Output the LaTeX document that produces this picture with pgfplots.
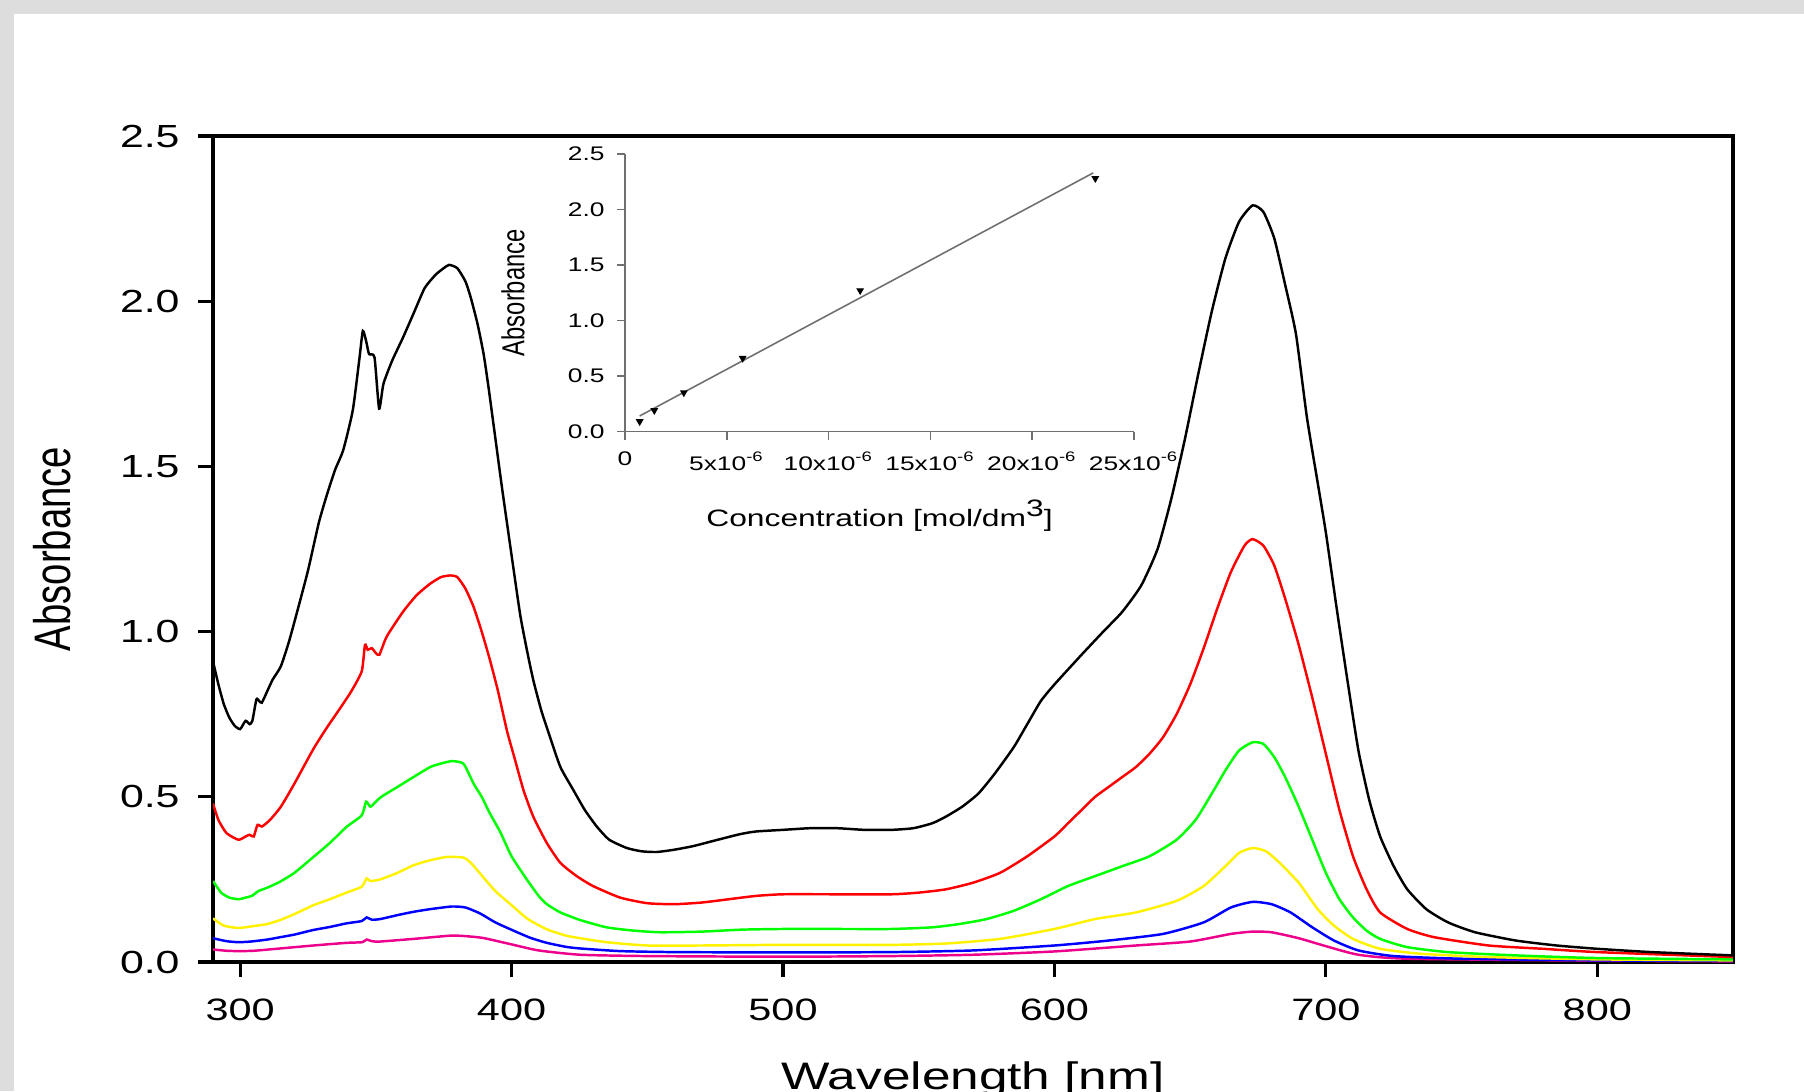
\documentclass[border=0pt]{standalone}
\usepackage{fontspec}
\setmainfont{Liberation Sans}
\newfontfamily\wide[FakeStretch=1.34]{Liberation Sans}
\usepackage{graphicx}
\usepackage{pgfplots}
\pgfplotsset{compat=1.18}
\usepackage{pgfplotstable}

\definecolor{framegray}{HTML}{DDDDDD}
\definecolor{insetgray}{HTML}{707070}

% spectra, wavelength [nm] vs absorbance
\pgfplotstableread{
x y
290 0.91
292 0.84
294 0.78
296 0.74
298 0.715
300 0.705
302 0.73
303.5 0.72
304.5 0.73
306 0.795
307 0.79
308 0.785
310 0.82
312 0.855
315 0.895
318 0.97
321 1.06
325 1.185
329 1.33
332 1.415
335 1.49
338 1.55
341.5 1.67
344 1.83
345.2 1.91
346.4 1.88
347.5 1.84
349.5 1.83
351.2 1.675
352.8 1.75
356 1.82
360 1.89
364 1.965
368 2.04
372 2.08
375 2.10
377 2.11
380 2.10
383 2.06
385 2.01
387.5 1.93
389.7 1.84
391.5 1.74
393.3 1.63
396.4 1.44
399.5 1.26
403.2 1.05
406 0.93
408.1 0.85
411 0.76
414.2 0.68
418 0.59
422.8 0.52
427 0.46
431.4 0.41
436 0.37
442.5 0.345
448 0.335
453.5 0.333
460 0.34
467 0.351
475 0.368
484.2 0.387
490 0.395
500 0.40
510 0.405
520 0.405
530 0.40
540 0.40
548 0.405
555 0.42
560 0.44
566 0.47
572 0.51
578 0.57
585 0.65
590 0.72
595 0.79
600 0.84
610 0.93
618 1.00
625 1.06
632 1.14
638 1.25
643 1.40
648 1.58
653 1.78
658 1.97
663 2.13
668 2.24
673 2.29
677 2.27
681 2.19
685 2.05
689 1.90
693 1.65
697 1.45
700 1.30
704 1.07
708 0.85
712 0.64
716 0.49
720 0.38
725 0.29
730 0.22
737 0.16
745 0.12
755 0.09
770 0.065
785 0.05
800 0.04
820 0.03
850 0.02
}\blackdata

\pgfplotstableread{
x y
290 0.48
292 0.43
295 0.39
299.4 0.37
302 0.38
303.5 0.385
305 0.38
306.4 0.415
308 0.41
311 0.43
315 0.47
320 0.54
327 0.645
332 0.71
337 0.77
341 0.82
344.8 0.88
346 0.96
347 0.945
348.5 0.95
350 0.935
351.3 0.93
354 0.985
360 1.06
365 1.11
370 1.145
374 1.165
377.4 1.17
380 1.165
383 1.13
386 1.075
389 1.00
392 0.915
395 0.82
398.3 0.70
401 0.62
404.4 0.52
408 0.44
413 0.36
418 0.30
424 0.26
430 0.23
440 0.195
450 0.178
460 0.175
470 0.18
480 0.19
490 0.20
500 0.205
520 0.205
540 0.205
550 0.21
560 0.22
570 0.24
580 0.27
590 0.32
600 0.38
605 0.42
610 0.46
615 0.50
620 0.53
625 0.56
630 0.59
635 0.63
640 0.68
645 0.75
650 0.84
655 0.95
660 1.07
665 1.18
670 1.26
673 1.28
677 1.26
681 1.20
685 1.10
690 0.96
695 0.80
700 0.63
705 0.46
710 0.32
715 0.22
720 0.15
730 0.10
740 0.075
760 0.05
780 0.04
800 0.03
850 0.015
}\reddata

\pgfplotstableread{
x y
290 0.245
293 0.21
296 0.195
299.4 0.19
302 0.195
304.3 0.20
306.8 0.215
310 0.225
314.7 0.243
320 0.27
327 0.318
333 0.36
339.2 0.409
344.8 0.444
346.4 0.485
348 0.47
350 0.485
352 0.50
358 0.53
363.9 0.56
370 0.59
373.7 0.60
378 0.608
382.3 0.60
386 0.54
389 0.50
392 0.45
395.8 0.394
400 0.32
405.6 0.25
410 0.20
413 0.175
418 0.15
425.3 0.127
435 0.105
445 0.095
455 0.09
470 0.092
485 0.098
500 0.10
520 0.10
540 0.10
555 0.105
565 0.115
575 0.13
585 0.155
595 0.19
605 0.23
615 0.26
625 0.29
635 0.32
645 0.37
652 0.43
658 0.51
663 0.58
668 0.64
673 0.665
677 0.66
681 0.62
685 0.56
690 0.47
695 0.37
700 0.27
705 0.19
710 0.135
715 0.095
720 0.07
730 0.045
745 0.03
770 0.02
800 0.012
850 0.008
}\greendata

\pgfplotstableread{
x y
290 0.132
294 0.11
299.4 0.103
304.3 0.108
310 0.115
314.7 0.127
320 0.145
327 0.172
333 0.19
339.2 0.21
344.8 0.228
346.6 0.253
348 0.245
351.6 0.25
358 0.27
363.9 0.293
370 0.308
376.2 0.318
382.3 0.316
385 0.30
388.4 0.268
394 0.215
400.7 0.167
406 0.13
413 0.099
420 0.08
425.3 0.072
435 0.06
450 0.05
470 0.05
500 0.052
540 0.052
560 0.056
580 0.07
600 0.10
615 0.13
630 0.15
645 0.185
655 0.23
663 0.29
668 0.33
673 0.345
678 0.335
683 0.30
690 0.24
697 0.16
703 0.11
710 0.07
720 0.04
735 0.025
760 0.015
800 0.008
850 0.005
}\yellowdata

\pgfplotstableread{
x y
290 0.072
295 0.063
299.4 0.06
304 0.062
310 0.068
314.7 0.075
320 0.083
327 0.097
333 0.106
339.2 0.117
344.8 0.124
346.6 0.135
348.5 0.128
351.6 0.13
358 0.142
363.9 0.152
370 0.16
378 0.168
383 0.165
388.4 0.147
394 0.12
400.7 0.095
407 0.073
413 0.058
420 0.046
425.3 0.041
440 0.033
460 0.03
500 0.029
540 0.03
570 0.035
600 0.05
620 0.065
640 0.085
655 0.12
665 0.165
673 0.182
680 0.175
687 0.15
695 0.105
703 0.065
712 0.035
725 0.018
750 0.01
800 0.005
850 0.003
}\bluedata

\pgfplotstableread{
x y
290 0.038
295 0.034
299.4 0.033
305 0.034
314.7 0.041
327 0.05
339.2 0.058
345 0.06
346.6 0.068
348.5 0.063
351.6 0.062
363.9 0.07
378 0.08
385 0.077
390 0.072
400.7 0.052
410 0.035
425.3 0.022
450 0.018
500 0.016
540 0.018
570 0.022
600 0.032
630 0.05
650 0.062
665 0.085
673 0.092
680 0.09
690 0.072
700 0.048
712 0.022
730 0.01
800 0.004
850 0.002
}\magentadata

% calibration, concentration in 1e-6 mol/dm3
\pgfplotstableread{
x y
0.72 0.09
1.44 0.19
2.89 0.35
5.78 0.66
11.55 1.27
23.1 2.28
}\calib

\begin{document}
\begin{tikzpicture}
\useasboundingbox (0,0) rectangle (18.04,-10.91);
\clip (0,0) rectangle (18.04,-10.91);
\fill[framegray] (0,0) rectangle (18.04,-10.91);
\fill[white] (0.14,-0.14) rectangle (18.04,-10.91);

\begin{axis}[
    at={(2.13cm,-9.62cm)}, anchor=south west,
    scale only axis, width=15.20cm, height=8.26cm,
    xmin=290, xmax=850, ymin=0, ymax=2.5,
    xtick={300,400,...,800},
    ytick={0,0.5,...,2.5},
    xtick pos=lower, ytick pos=left,
    tick align=outside,
    major tick length=0.15cm,
    axis line style={line width=1pt},
    major tick style={line width=0.9pt, black},
    /pgf/number format/assume math mode=true,
    yticklabel style={font=\wide\fontsize{9.1}{10}\selectfont, xshift=-0.06cm,
        /pgf/number format/.cd, fixed, fixed zerofill, precision=1},
    xticklabel style={font=\wide\fontsize{8.8}{10}\selectfont, yshift=-0.09cm,
        /pgf/number format/.cd, fixed},
    xlabel={Wavelength [nm]},
    xlabel style={font=\wide\fontsize{10.9}{13}\selectfont,
        at={(axis description cs:0.5,-0.154)}, anchor=base},
    ylabel={\scalebox{1}[1.34]{Absorbance}},
    ylabel style={font=\fontsize{10.9}{13}\selectfont,
        at={(axis description cs:-0.106,0.5)}, anchor=center},
    every axis plot/.append style={line width=0.7pt, smooth, tension=0.35},
]
\addplot[magenta] table {\magentadata};
\addplot[blue] table {\bluedata};
\addplot[yellow] table {\yellowdata};
\addplot[green] table {\greendata};
\addplot[red] table {\reddata};
\addplot[black] table {\blackdata};
\end{axis}

\begin{axis}[
    at={(6.25cm,-4.315cm)}, anchor=south west,
    scale only axis, width=5.09cm, height=2.775cm,
    xmin=0, xmax=25, ymin=0, ymax=2.5,
    axis lines*=left,
    axis line style={insetgray, line width=0.5pt},
    tick align=outside,
    major tick length=0.08cm,
    major tick style={insetgray, line width=0.5pt},
    xtick={0,5,...,25},
    xticklabels={0, 5x10\textsuperscript{-6}, 10x10\textsuperscript{-6},
        15x10\textsuperscript{-6}, 20x10\textsuperscript{-6}, 25x10\textsuperscript{-6}},
    ytick={0,0.5,...,2.5},
    /pgf/number format/assume math mode=true,
    yticklabel style={font=\wide\fontsize{5.6}{7}\selectfont,
        /pgf/number format/.cd, fixed, fixed zerofill, precision=1},
    xticklabel style={font=\wide\fontsize{5.6}{7}\selectfont},
    xlabel={Concentration [mol/dm\raisebox{0.4em}{3}]},
    xlabel style={font=\wide\fontsize{6.75}{8}\selectfont,
        at={(axis description cs:0.5,-0.342)}, anchor=base},
    ylabel={\scalebox{1}[1.34]{Absorbance}},
    ylabel style={font=\fontsize{6.75}{8}\selectfont,
        at={(axis description cs:-0.22,0.5)}, anchor=center},
]
\addplot[insetgray, line width=0.45pt] coordinates {(0.72,0.14) (23.0,2.33)};
\addplot[only marks, mark=triangle*, mark options={rotate=180, black, scale=0.45}] table {\calib};
\end{axis}
\end{tikzpicture}
\end{document}
